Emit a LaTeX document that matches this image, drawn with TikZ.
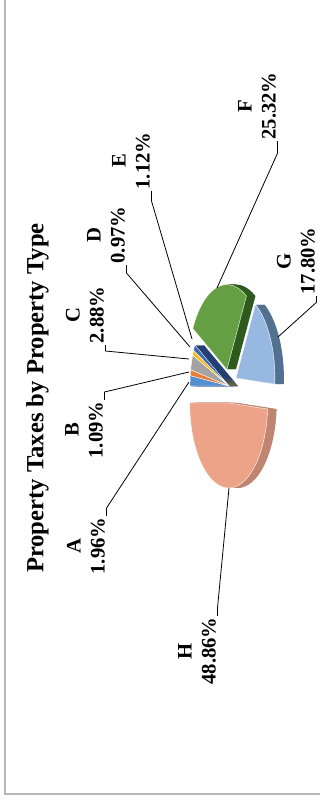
\documentclass[tikz,border=0pt]{standalone}
\usepackage{fontspec}
\setmainfont{Liberation Serif}
\definecolor{cA}{HTML}{5490CF}
\definecolor{cAs}{HTML}{35608F}
\definecolor{cB}{HTML}{E97B33}
\definecolor{cBs}{HTML}{A2531E}
\definecolor{cC}{HTML}{A3A3A3}
\definecolor{cCs}{HTML}{707070}
\definecolor{cD}{HTML}{F7BC12}
\definecolor{cDs}{HTML}{A9800A}
\definecolor{cE}{HTML}{3D66B0}
\definecolor{cEs}{HTML}{223E72}
\definecolor{cF}{HTML}{64A043}
\definecolor{cFs}{HTML}{2E5A1D}
\definecolor{cG}{HTML}{97B9E1}
\definecolor{cGs}{HTML}{52708F}
\definecolor{cH}{HTML}{ECA387}
\definecolor{cHs}{HTML}{BE8670}
\tikzset{
	lbl/.style={rotate=90, align=center, inner sep=1pt, font=\fontsize{15.5}{18}\selectfont\bfseries},
	leader/.style={draw=black, line width=0.6pt},
	frame/.style={draw=black!28, line width=1.4pt}
}
\def\cx{229}\def\cy{386}\def\ra{85}\def\rb{39}
\newcommand{\sectorpath}[4]{(#3,#4) -- plot[domain=#1:#2,samples=36] ({#3-\rb*sin(\x)},{#4-\ra*cos(\x)}) -- cycle}
\newcommand{\slicepos}[3]{%
	\pgfmathsetmacro{\slmid}{(#1+#2)/2}%
	\pgfmathsetmacro{\slx}{\cx-#3*\rb*sin(\slmid)}%
	\pgfmathsetmacro{\sly}{\cy-#3*\ra*cos(\slmid)}%
}
\newcommand{\pieside}[4]{%
	\slicepos{#1}{#2}{#3}%
	\foreach \k in {1,...,9}{\fill[#4] \sectorpath{#1}{#2}{\slx+\k}{\sly};}%
}
\newcommand{\pietop}[4]{%
	\slicepos{#1}{#2}{#3}%
	\fill[#4, draw=white, line width=0.3pt] \sectorpath{#1}{#2}{\slx}{\sly};%
}
\begin{document}
\begin{tikzpicture}[x=0.75pt,y=-0.75pt]
	\useasboundingbox (0,0) rectangle (320,801);
	\draw[frame] (5,0) -- (5,794) -- (320,794);

	\pieside{82.944}{90}{0}{cAs}
	\pieside{79.02}{82.944}{0}{cBs}
	\pieside{68.652}{79.02}{0}{cCs}
	\pieside{65.16}{68.652}{0}{cDs}
	\pieside{61.128}{65.16}{0}{cEs}
	\pietop{82.944}{90}{0}{cA}
	\pietop{79.02}{82.944}{0}{cB}
	\pietop{68.652}{79.02}{0}{cC}
	\pietop{65.16}{68.652}{0}{cD}
	\pietop{61.128}{65.16}{0}{cE}
	\pieside{-30.024}{61.128}{0.2}{cFs}
	\pietop{-30.024}{61.128}{0.2}{cF}
	\pieside{-270}{-94.104}{0.2}{cHs}
	\pietop{-270}{-94.104}{0.2}{cH}
	\pieside{-94.104}{-30.024}{0.2}{cGs}
	\pietop{-94.104}{-30.024}{0.2}{cG}

	\node[lbl, font=\fontsize{18.5}{22}\selectfont\bfseries] (title) at (37.5,398) {Property Taxes by Property Type};
	\node[lbl] (lA) at (86,546) {A\\1.96\%};
	\node[lbl] (lB) at (84,430) {B\\1.09\%};
	\node[lbl] (lC) at (85,315) {C\\2.88\%};
	\node[lbl] (lD) at (106,235) {D\\0.97\%};
	\node[lbl] (lE) at (131,161) {E\\1.12\%};
	\node[lbl] (lF) at (257,106) {F\\25.32\%};
	\node[lbl] (lG) at (296,261) {G\\17.80\%};
	\node[lbl] (lH) at (197,651) {H\\48.86\%};

	\coordinate (sA) at (189,382);
	\coordinate (sB) at (189,372);
	\coordinate (sC) at (189,359);
	\coordinate (sD) at (190,347);
	\coordinate (sE) at (192,339);
	\coordinate (sF) at (217,288);
	\coordinate (sG) at (278,337);
	\coordinate (sH) at (229,488);

	\draw[leader] (lA.south east) -- ++(0,-8) -- (sA);
	\draw[leader] (lB.south east) -- ++(0,-8) -- (sB);
	\draw[leader] (lC.south west) -- ++(0,6) -- (sC);
	\draw[leader] (lD.south west) -- ++(0,8) -- (sD);
	\draw[leader] (lE.south west) -- ++(0,10) -- (sE);
	\draw[leader] (lF.south west) -- ++(0,12) -- (sF);
	\draw[leader] (lG.south west) -- ++(0,6) -- (sG);
	\draw[leader] (lH.south east) -- ++(0,-8) -- (sH);
\end{tikzpicture}
\end{document}
